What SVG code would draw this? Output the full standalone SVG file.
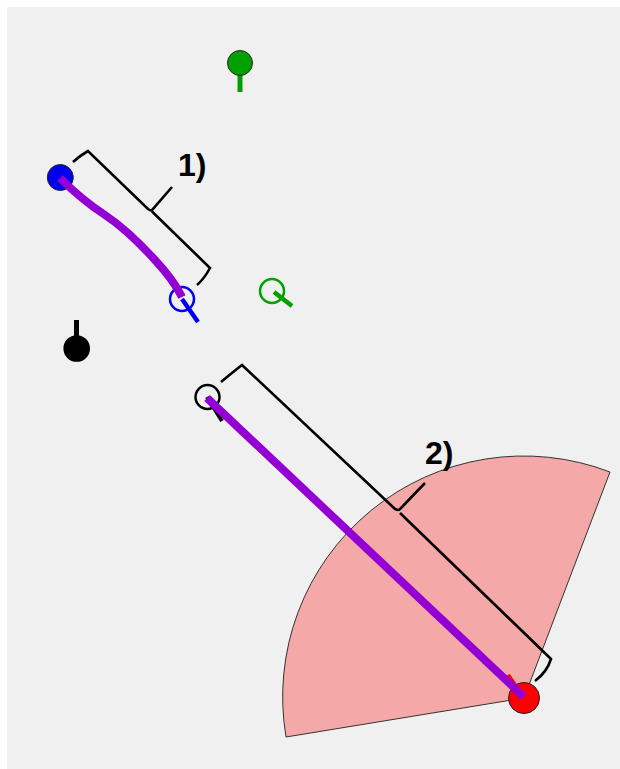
<svg xmlns="http://www.w3.org/2000/svg" width="620" height="769" viewBox="0 0 620 769">
<style>
.bg{fill:#f0f0f0}
.brace{fill:none;stroke:#000;stroke-width:2.6;stroke-linejoin:miter}
.path{fill:none;stroke:#9400d3;stroke-width:8;stroke-linecap:butt}
.lbl{font-family:"Liberation Sans",Arial,sans-serif;font-weight:bold;font-size:32px;fill:#000}
.dot{stroke:#222;stroke-width:1}
.ring{fill:none;stroke-width:2.5}
</style>
<rect width="620" height="769" fill="#ffffff"/>
<rect class="bg" x="7" y="7" width="613" height="762"/>
<g id="wedge">
<path d="M524,698 L286,737 A241 241 0 0 1 610,472 Z" fill="#f4a8a8" stroke="#333" stroke-width="1"/>
</g>
<g id="connectors">
<path class="brace" d="M73,162 Q81,155 88,151 L148,209 Q151,211 152,210 L172,187 M152,211.5 L210,268 Q204,279 197,285"/>
<path class="brace" d="M221,382 Q233,372 242,365 L395,509 Q399,511 400,509 L425,483 M400,513 L551,659 Q547,672 535,681"/>
</g>
<g id="node-green-top">
<line x1="240" y1="70" x2="240" y2="92" stroke="#00a000" stroke-width="5"/>
<circle class="dot" cx="240" cy="63" r="12.5" fill="#00a000"/>
</g>
<g id="node-black">
<line x1="76.5" y1="320" x2="76.5" y2="340" stroke="#000" stroke-width="5"/>
<circle cx="76.7" cy="348.5" r="13.3" fill="#000"/>
</g>
<g id="node-green-ring">
<line x1="274" y1="292" x2="292" y2="306" stroke="#00a000" stroke-width="4.5"/>
<circle class="ring" cx="272" cy="291" r="12" stroke="#00a000"/>
</g>
<g id="node-blue">
<circle class="dot" cx="60.3" cy="177.5" r="13" fill="#0000ee"/>
</g>
<g id="node-blue-ring">
<line x1="182" y1="299" x2="198" y2="322" stroke="#0000ee" stroke-width="4.5"/>
<circle class="ring" cx="182" cy="299" r="12" stroke="#0000ee"/>
</g>
<g id="node-black-ring">
<line x1="207" y1="397" x2="222" y2="421" stroke="#000" stroke-width="4"/>
<circle class="ring" cx="207.5" cy="397" r="12" stroke="#000"/>
</g>
<g id="node-red">
<line x1="524" y1="698" x2="508" y2="675" stroke="#ff0000" stroke-width="4"/>
<circle class="dot" cx="524" cy="698" r="15.5" fill="#ff0000"/>
</g>
<g id="paths">
<path class="path" d="M60,178 C75,193 88,204 105,215 C120,225 135,238 155,260 C168,274 176,285 182,297"/>
<line class="path" x1="207" y1="398" x2="524" y2="697"/>
</g>
<text class="lbl" x="178" y="176">1)</text>
<text class="lbl" x="425" y="464">2)</text>
</svg>
